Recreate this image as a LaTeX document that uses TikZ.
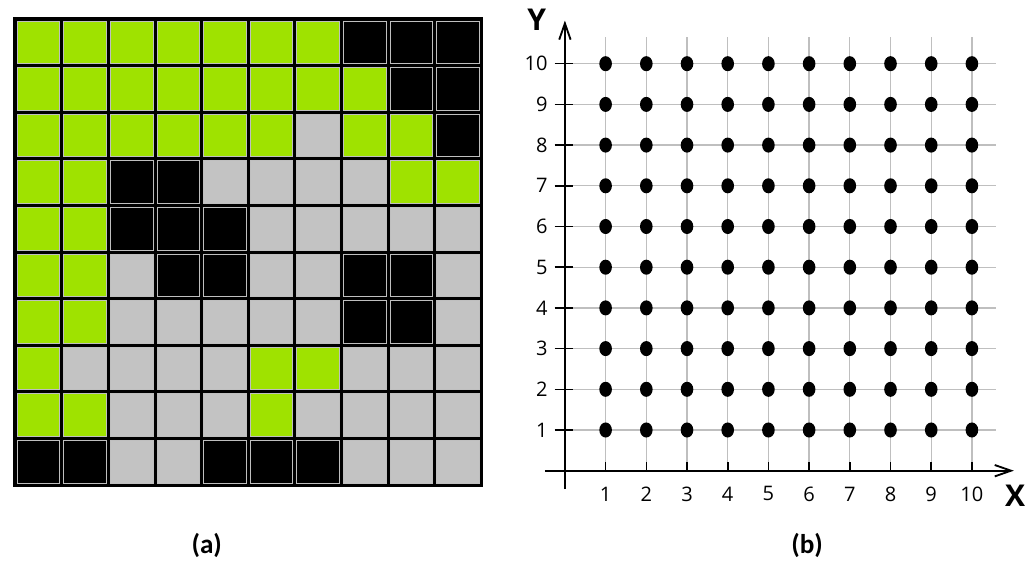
\documentclass[tikz,border=0pt]{standalone}
\usepackage{fontspec}
\setmainfont{Open Sans}
\newfontfamily\capfont{Carlito}
\usetikzlibrary{arrows.meta}

\definecolor{cellG}{RGB}{159,226,0}
\definecolor{cellS}{RGB}{195,195,195}
\definecolor{cellK}{RGB}{0,0,0}

\begin{document}
\begin{tikzpicture}[
    gridline/.style={draw=black!25, line width=0.9pt},
    axisline/.style={line width=1.3pt, -{Straight Barb[length=4mm,width=2.8mm]}},
    tickline/.style={line width=1.1pt},
    numlab/.style={font=\fontsize{14}{16}\selectfont, inner sep=0pt},
    axlab/.style={font=\fontsize{21}{25}\selectfont\bfseries, inner sep=0pt},
    caplab/.style={font=\capfont\fontsize{19}{22}\selectfont\bfseries, inner sep=0pt}]
  \useasboundingbox (-13.88,-2.22) rectangle (11.55,11.565);

  % (a) coloured cells
  \begin{scope}[shift={(-13.56,-0.40)}]
    \fill[black] (0,0) rectangle (11.55,11.55);
    \foreach \row [count=\j] in {
        {G,G,G,G,G,G,G,K,K,K},
        {G,G,G,G,G,G,G,G,K,K},
        {G,G,G,G,G,G,S,G,G,K},
        {G,G,K,K,S,S,S,S,G,G},
        {G,G,K,K,K,S,S,S,S,S},
        {G,G,S,K,K,S,S,K,K,S},
        {G,G,S,S,S,S,S,K,K,S},
        {G,S,S,S,S,G,G,S,S,S},
        {G,G,S,S,S,G,S,S,S,S},
        {K,K,S,S,K,K,K,S,S,S}} {
      \foreach \c [count=\i] in \row {
        \filldraw[fill=cell\c, draw=black!25, line width=0.4pt]
          ({0.1+(\i-1)*1.145},{0.1+(10-\j)*1.145}) rectangle ++(1.045,1.045);
      }
    }
  \end{scope}

  % (b) axes and lattice
  \coordinate (xstart) at (-0.49,0);
  \coordinate (xend) at (11.03,0);
  \coordinate (ystart) at (0,-0.45);
  \coordinate (yend) at (0,11.06);
  \foreach \k in {1,...,10} {
    \draw[gridline] (\k,0) -- (\k,10.66);
    \draw[gridline] (0.2,\k) -- (10.6,\k);
  }
  \draw[axisline] (xstart) -- (xend);
  \draw[axisline] (ystart) -- (yend);
  \foreach \k in {1,...,10} {
    \draw[tickline] (\k,0) -- (\k,0.22);
    \draw[tickline] (-0.25,\k) -- (0.2,\k);
    \node[numlab, anchor=east] (ylab\k) at (-0.42,\k) {\k};
    \node[numlab] (xlab\k) at (\k,-0.57) {\k};
  }
  \foreach \x in {1,...,10}
    \foreach \y in {1,...,10}
      \fill (\x,\y) ellipse (0.155 and 0.185);
  \node[axlab] (xname) at (11.06,-0.62) {X};
  \node[axlab] (yname) at (-0.69,11.07) {Y};

  \node[caplab] (capa) at (-8.80,-1.83) {(a)};
  \node[caplab] (capb) at (5.95,-1.83) {(b)};
\end{tikzpicture}
\end{document}
